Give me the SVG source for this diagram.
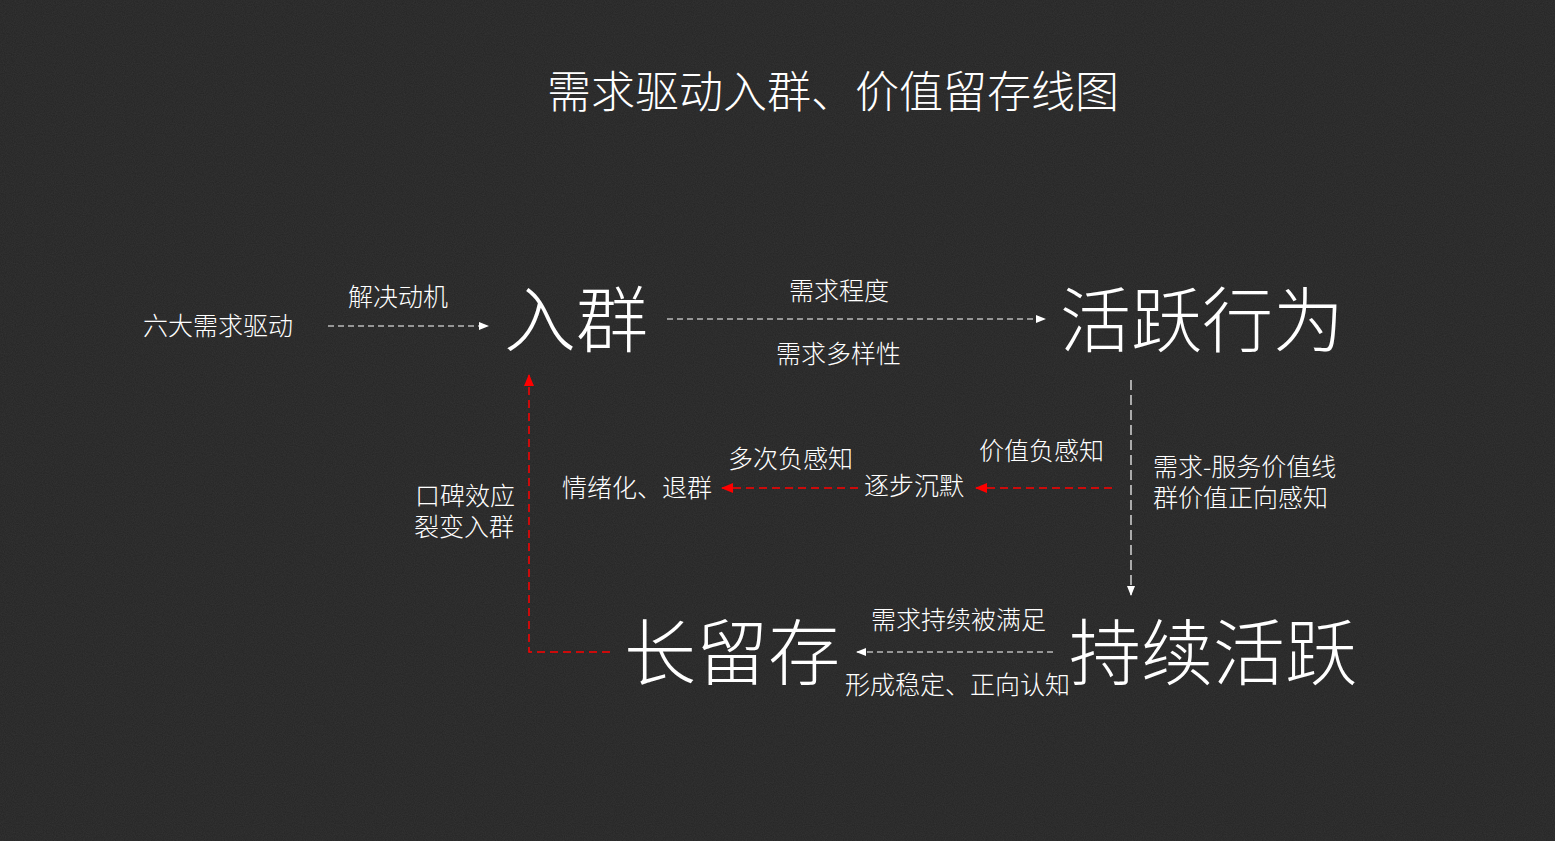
<svg xmlns="http://www.w3.org/2000/svg" width="1555" height="841" viewBox="0 0 1555 841">
<defs>
<style>
text{font-family:"Noto Sans CJK SC","Microsoft YaHei",sans-serif;font-weight:300;fill:#ffffff}
.s{font-size:25px}
.b{font-size:72px}
.w{stroke:#ffffff;stroke-width:1.2;fill:none;stroke-dasharray:6 4}
.wv{stroke:#ffffff;stroke-width:1.2;fill:none;stroke-dasharray:10 5}
.r{stroke:#ff0000;stroke-width:1.5;fill:none;stroke-dasharray:8 5}
</style>
<marker id="aw" markerWidth="10" markerHeight="10" refX="9" refY="5" orient="auto" markerUnits="userSpaceOnUse"><path d="M0,1 L10,5 L0,9 Z" fill="#ffffff"/></marker>
<marker id="ar" markerWidth="12" markerHeight="12" refX="11" refY="6" orient="auto" markerUnits="userSpaceOnUse"><path d="M0,1 L12,6 L0,11 Z" fill="#ff0000"/></marker>
<filter id="noise" x="0" y="0" width="100%" height="100%"><feTurbulence type="fractalNoise" baseFrequency="0.9" numOctaves="2" seed="3"/><feColorMatrix values="0 0 0 0 0.16 0 0 0 0 0.16 0 0 0 0 0.16 0 0 0 0.35 0"/></filter>
</defs>
<rect width="1555" height="841" fill="#252525"/>
<rect width="1555" height="841" filter="url(#noise)" opacity="0.6"/>
<text id="title" x="547" y="108" style="font-size:44px">需求驱动入群、价值留存线图</text>
<g id="connectors">
<line class="w" x1="328" y1="326" x2="488" y2="326" marker-end="url(#aw)"/>
<line class="w" x1="667" y1="319" x2="1045" y2="319" marker-end="url(#aw)"/>
<line class="wv" x1="1131" y1="380" x2="1131" y2="595" marker-end="url(#aw)"/>
<line class="r" x1="1112" y1="488" x2="976" y2="488" marker-end="url(#ar)"/>
<line class="r" x1="858" y1="488" x2="722" y2="488" marker-end="url(#ar)"/>
<line class="w" x1="1053" y1="652" x2="857" y2="652" marker-end="url(#aw)"/>
<polyline class="r" points="610,652 529,652 529,375" marker-end="url(#ar)"/>
</g>
<g id="n-source"><text class="s" x="143" y="335">六大需求驱动</text></g>
<g id="l-motive"><text class="s" x="348" y="306">解决动机</text></g>
<g id="n-join"><text class="b" x="504" y="346">入群</text></g>
<g id="l-degree"><text class="s" x="789" y="300">需求程度</text><text class="s" x="776" y="363">需求多样性</text></g>
<g id="n-active"><text class="b" x="1060" y="346" style="font-size:71px">活跃行为</text></g>
<g id="l-positive"><text class="s"><tspan x="1153" y="476">需求-服务价值线</tspan><tspan x="1153" y="507">群价值正向感知</tspan></text></g>
<g id="l-neg1"><text class="s" x="979" y="460">价值负感知</text></g>
<g id="n-silent"><text class="s" x="864" y="495">逐步沉默</text></g>
<g id="l-neg2"><text class="s" x="728" y="468">多次负感知</text></g>
<g id="n-quit"><text class="s" x="562" y="497">情绪化、退群</text></g>
<g id="l-wom"><text class="s"><tspan x="415" y="505">口碑效应</tspan><tspan x="414" y="536">裂变入群</tspan></text></g>
<g id="n-retain"><text class="b" x="624" y="679">长留存</text></g>
<g id="n-sustain"><text class="b" x="1069" y="679">持续活跃</text></g>
<g id="l-satisfied"><text class="s" x="871" y="629">需求持续被满足</text><text class="s" x="845" y="694">形成稳定、正向认知</text></g>
</svg>
